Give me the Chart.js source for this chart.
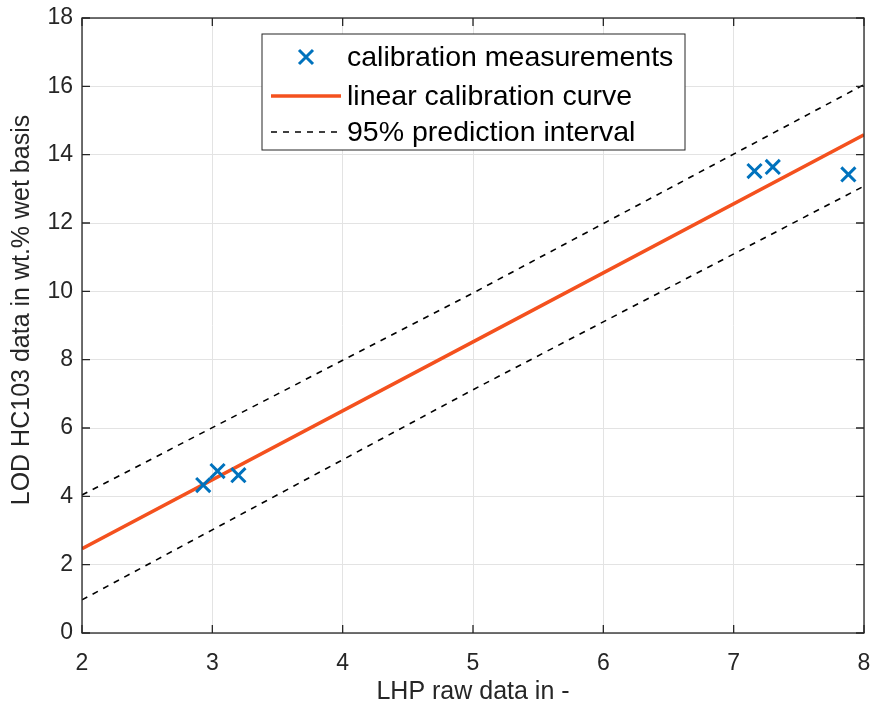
<!DOCTYPE html>
<html>
<head>
<meta charset="utf-8">
<script src="https://cdn.jsdelivr.net/npm/chart.js@4"></script>
<style>
  html, body { margin: 0; padding: 0; background: #fff; }
  #wrap { width: 871px; height: 706px; }
</style>
</head>
<body>
<div id="wrap"><canvas id="calChart" width="871" height="706"></canvas></div>
<script>
const measX = [2.93, 3.04, 3.20, 7.16, 7.30, 7.88];
const measY = [4.33, 4.74, 4.62, 13.52, 13.64, 13.42];

// fit and prediction band, sampled at x = 2, 5, 8
const curveX = [2, 5, 8];
const fitY = [2.47, 8.52, 14.58];
const upperY = [4.04, 9.95, 16.05];
const lowerY = [0.97, 7.12, 13.08];

const xTicks = [2, 3, 4, 5, 6, 7, 8];
const yTicks = [0, 2, 4, 6, 8, 10, 12, 14, 16, 18];

const legendLabels = ['calibration measurements', 'linear calibration curve', '95% prediction interval'];
const xTitle = 'LHP raw data in -';
const yTitle = 'LOD HC103 data in wt.% wet basis';

const blue = '#0072BD';
const orange = '#F4511E';
const fontFam = '"Liberation Sans", Arial, Helvetica, sans-serif';

const toPts = (xs, ys) => xs.map((x, i) => ({ x: x, y: ys[i] }));

// force the plot box edges after layout (Chart.js keeps adding a few px on the right)
const fixArea = {
    id: 'fixArea',
    afterLayout(chart) {
        const a = chart.chartArea;
        const target = chart.width - 7;
        if (a.right !== target) {
            a.right = target;
            a.width = a.right - a.left;
            const xs = chart.scales.x;
            xs.right = target;
            xs.width = xs.right - xs.left;
            xs.configure();
            const ys = chart.scales.y;
            ys.configure();
        }
    }
};

// box around plot area + inward ticks + tick labels + titles + legend (MATLAB look)
const matlabBox = {
    id: 'matlabBox',
    afterDraw(chart) {
        const ctx = chart.ctx;
        const a = chart.chartArea;
        const xs = chart.scales.x, ys = chart.scales.y;
        ctx.save();
        ctx.strokeStyle = '#262626';
        ctx.lineWidth = 1.3;
        ctx.strokeRect(a.left, a.top, a.right - a.left, a.bottom - a.top);
        ctx.beginPath();
        xTicks.forEach(v => {
            const px = xs.getPixelForValue(v);
            ctx.moveTo(px, a.bottom); ctx.lineTo(px, a.bottom - 8);
            ctx.moveTo(px, a.top); ctx.lineTo(px, a.top + 8);
        });
        yTicks.forEach(v => {
            const py = ys.getPixelForValue(v);
            ctx.moveTo(a.left, py); ctx.lineTo(a.left + 8, py);
            ctx.moveTo(a.right, py); ctx.lineTo(a.right - 8, py);
        });
        ctx.stroke();

        // tick labels
        ctx.fillStyle = '#262626';
        ctx.font = '23px ' + fontFam;
        ctx.textBaseline = 'middle';
        ctx.textAlign = 'center';
        xTicks.forEach(v => ctx.fillText(String(v), xs.getPixelForValue(v), a.bottom + 31));
        ctx.textAlign = 'right';
        yTicks.forEach(v => ctx.fillText(String(v), a.left - 9, ys.getPixelForValue(v)));

        // axis titles
        ctx.textAlign = 'center';
        ctx.font = '25px ' + fontFam;
        ctx.fillText(xTitle, (a.left + a.right) / 2, 692);
        ctx.save();
        ctx.translate(22, 310);
        ctx.rotate(-Math.PI / 2);
        ctx.fillText(yTitle, 0, 0);
        ctx.restore();

        // legend box
        const lx = 262, ly = 34, lw = 423, lh = 116;
        ctx.fillStyle = '#fff';
        ctx.fillRect(lx, ly, lw, lh);
        ctx.strokeStyle = '#262626';
        ctx.lineWidth = 1;
        ctx.strokeRect(lx, ly, lw, lh);
        const rows = [57, 96, 132];
        // marker
        ctx.strokeStyle = blue;
        ctx.lineWidth = 3;
        ctx.beginPath();
        ctx.moveTo(299, rows[0] - 7); ctx.lineTo(313, rows[0] + 7);
        ctx.moveTo(313, rows[0] - 7); ctx.lineTo(299, rows[0] + 7);
        ctx.stroke();
        // solid line
        ctx.strokeStyle = orange;
        ctx.lineWidth = 3.5;
        ctx.beginPath();
        ctx.moveTo(271, rows[1]); ctx.lineTo(341, rows[1]);
        ctx.stroke();
        // dashed line
        ctx.strokeStyle = '#000';
        ctx.lineWidth = 1.6;
        ctx.setLineDash([6, 6]);
        ctx.beginPath();
        ctx.moveTo(271, rows[2]); ctx.lineTo(341, rows[2]);
        ctx.stroke();
        ctx.setLineDash([]);
        ctx.fillStyle = '#000';
        ctx.font = '28.5px ' + fontFam;
        ctx.textAlign = 'left';
        legendLabels.forEach((t, i) => ctx.fillText(t, 347, rows[i] + 1));
        ctx.restore();
    }
};

new Chart(document.getElementById('calChart').getContext('2d'), {
    type: 'scatter',
    data: {
        datasets: [
            {
                label: legendLabels[0],
                data: toPts(measX, measY),
                showLine: false,
                pointStyle: 'crossRot',
                pointRadius: 10,
                pointBorderWidth: 3,
                borderColor: blue,
                backgroundColor: blue,
                order: 0
            },
            {
                label: legendLabels[1],
                data: toPts(curveX, fitY),
                showLine: true,
                borderColor: orange,
                borderWidth: 3.5,
                pointRadius: 0,
                order: 1
            },
            {
                label: legendLabels[2],
                data: toPts(curveX, upperY),
                showLine: true,
                borderColor: '#000',
                borderWidth: 1.6,
                borderDash: [6, 6],
                pointRadius: 0,
                order: 2
            },
            {
                label: legendLabels[2] + ' (lower)',
                data: toPts(curveX, lowerY),
                showLine: true,
                borderColor: '#000',
                borderWidth: 1.6,
                borderDash: [6, 6],
                pointRadius: 0,
                order: 2
            }
        ]
    },
    options: {
        responsive: false,
        animation: false,
        layout: { padding: { top: 18, right: 1, left: 0, bottom: 0 } },
        plugins: {
            legend: { display: false },
            tooltip: { enabled: false }
        },
        scales: {
            x: {
                type: 'linear',
                min: 2, max: 8,
                afterBuildTicks: s => { s.ticks = xTicks.map(v => ({ value: v })); },
                afterFit: s => { s.height = 73; },
                grid: { color: '#e3e3e3', lineWidth: 1, drawTicks: false },
                border: { display: false },
                ticks: { display: false },
                title: { display: false }
            },
            y: {
                type: 'linear',
                min: 0, max: 18,
                afterBuildTicks: s => { s.ticks = yTicks.map(v => ({ value: v })); },
                afterFit: s => { s.width = 82; },
                grid: { color: '#e3e3e3', lineWidth: 1, drawTicks: false },
                border: { display: false },
                ticks: { display: false },
                title: { display: false }
            }
        }
    },
    plugins: [fixArea, matlabBox]
});
</script>
</body>
</html>
